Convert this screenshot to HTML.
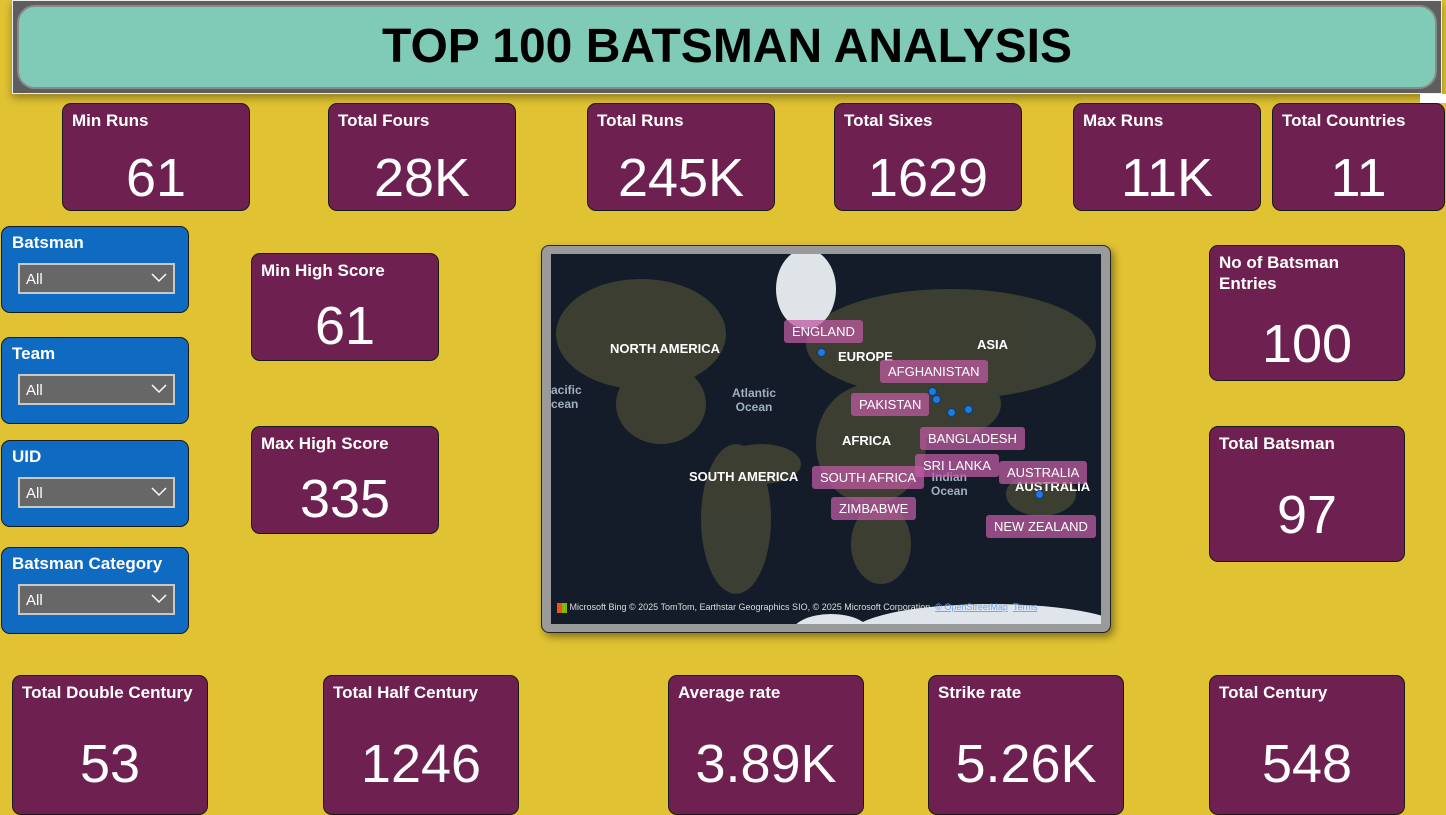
<!DOCTYPE html>
<html><head><meta charset="utf-8"><style>
*{box-sizing:border-box;margin:0;padding:0}
body{width:1446px;height:811px;background:#E0C232;position:relative;overflow:hidden;font-family:"Liberation Sans",sans-serif}
.card{position:absolute;background:#6E2150;border:1.5px solid #1a1a1a;border-radius:9px;color:#fff}
.card .t{position:absolute;left:9px;top:6px;font-size:17px;font-weight:bold;line-height:21px}
.card .v{position:absolute;left:0;right:0;text-align:center;font-size:54px;line-height:60px}
.sl{position:absolute;left:1px;width:188px;height:87px;background:#0F6BC2;border:1.5px solid #1a1a1a;border-radius:9px;color:#fff}
.sl .t{position:absolute;left:10px;top:6px;font-size:17px;font-weight:bold}
.sl .d{position:absolute;left:16px;top:36px;width:157px;height:31px;background:#676767;border:2px solid #c8c8c8;font-size:15px;padding:6px 0 0 6px}
.sl .d svg{position:absolute;right:6px;top:8px}
.lab{position:absolute;background:rgba(190,90,160,.75);color:#fff;font-size:13px;padding:4px 8px;border-radius:3px;white-space:nowrap}
.mt{position:absolute;color:#fff;font-weight:bold;font-size:13px;white-space:nowrap}
.dot{position:absolute;width:9px;height:9px;border-radius:50%;background:#1f7ae0;border:1px solid #0a3b80}
</style></head><body>
<div style="position:absolute;left:12px;top:0;width:1430px;height:94px;background:#5e5e5e;border:1px solid #eee;box-shadow:0 4px 8px rgba(0,0,0,.35)">
 <div style="position:absolute;left:4px;top:4px;right:4px;bottom:4px;background:#7FCBB7;border-radius:18px;border:2px solid #8a8a8a;text-align:center;font-size:48px;font-weight:bold;line-height:80px;color:#000">TOP 100 BATSMAN ANALYSIS</div>
</div>
<div style="position:absolute;left:1420px;top:94px;width:26px;height:9px;background:#fff"></div>

<div class="card" style="left:62px;top:103px;width:188px;height:108px"><div class="t">Min Runs</div><div class="v" style="top:44px">61</div></div>
<div class="card" style="left:328px;top:103px;width:188px;height:108px"><div class="t">Total Fours</div><div class="v" style="top:44px">28K</div></div>
<div class="card" style="left:587px;top:103px;width:188px;height:108px"><div class="t">Total Runs</div><div class="v" style="top:44px">245K</div></div>
<div class="card" style="left:834px;top:103px;width:188px;height:108px"><div class="t">Total Sixes</div><div class="v" style="top:44px">1629</div></div>
<div class="card" style="left:1073px;top:103px;width:188px;height:108px"><div class="t">Max Runs</div><div class="v" style="top:44px">11K</div></div>
<div class="card" style="left:1272px;top:103px;width:173px;height:108px"><div class="t">Total Countries</div><div class="v" style="top:44px">11</div></div>

<div class="card" style="left:251px;top:253px;width:188px;height:108px"><div class="t">Min High Score</div><div class="v" style="top:42px">61</div></div>
<div class="card" style="left:251px;top:426px;width:188px;height:108px"><div class="t">Max High Score</div><div class="v" style="top:42px">335</div></div>
<div class="card" style="left:1209px;top:245px;width:196px;height:136px"><div class="t">No of Batsman<br>Entries</div><div class="v" style="top:68px">100</div></div>
<div class="card" style="left:1209px;top:426px;width:196px;height:136px"><div class="t">Total Batsman</div><div class="v" style="top:58px">97</div></div>

<div class="card" style="left:12px;top:675px;width:196px;height:140px"><div class="t">Total Double Century</div><div class="v" style="top:58px">53</div></div>
<div class="card" style="left:323px;top:675px;width:196px;height:140px"><div class="t">Total Half Century</div><div class="v" style="top:58px">1246</div></div>
<div class="card" style="left:668px;top:675px;width:196px;height:140px"><div class="t">Average rate</div><div class="v" style="top:58px">3.89K</div></div>
<div class="card" style="left:928px;top:675px;width:196px;height:140px"><div class="t">Strike rate</div><div class="v" style="top:58px">5.26K</div></div>
<div class="card" style="left:1209px;top:675px;width:196px;height:140px"><div class="t">Total Century</div><div class="v" style="top:58px">548</div></div>

<div class="sl" style="top:226px"><div class="t">Batsman</div><div class="d">All<svg width="16" height="10"><path d="M1 1l7 7 7-7" stroke="#fff" fill="none" stroke-width="1.5"/></svg></div></div>
<div class="sl" style="top:337px"><div class="t">Team</div><div class="d">All<svg width="16" height="10"><path d="M1 1l7 7 7-7" stroke="#fff" fill="none" stroke-width="1.5"/></svg></div></div>
<div class="sl" style="top:440px"><div class="t">UID</div><div class="d">All<svg width="16" height="10"><path d="M1 1l7 7 7-7" stroke="#fff" fill="none" stroke-width="1.5"/></svg></div></div>
<div class="sl" style="top:547px"><div class="t">Batsman Category</div><div class="d">All<svg width="16" height="10"><path d="M1 1l7 7 7-7" stroke="#fff" fill="none" stroke-width="1.5"/></svg></div></div>

<div style="position:absolute;left:541px;top:245px;width:570px;height:388px;background:#9a9a9a;border:1.5px solid #222;border-radius:8px;box-shadow:3px 4px 8px rgba(0,0,0,.4)">
 <div style="position:absolute;left:9px;top:8px;width:550px;height:370px;background:#131c28;overflow:hidden">
  <svg width="550" height="370" style="position:absolute;left:0;top:0">
   <g fill="#4a4a36" opacity=".75">
    <ellipse cx="90" cy="80" rx="85" ry="55"/>
    <ellipse cx="110" cy="150" rx="45" ry="40"/>
    <ellipse cx="185" cy="265" rx="35" ry="75"/>
    <ellipse cx="210" cy="210" rx="40" ry="20"/>
    <ellipse cx="320" cy="190" rx="55" ry="60"/>
    <ellipse cx="330" cy="290" rx="30" ry="40"/>
    <ellipse cx="400" cy="90" rx="145" ry="55"/>
    <ellipse cx="390" cy="150" rx="60" ry="35"/>
    <ellipse cx="490" cy="240" rx="35" ry="22"/>
   </g>
   <ellipse cx="255" cy="35" rx="30" ry="40" fill="#dfe4e8"/>
   <ellipse cx="440" cy="380" rx="140" ry="30" fill="#dfe5ea"/>
   <ellipse cx="280" cy="380" rx="40" ry="20" fill="#dfe5ea"/>
  </svg>
  <div class="mt" style="left:59px;top:87px">NORTH AMERICA</div>
  <div class="mt" style="left:138px;top:215px">SOUTH AMERICA</div>
  <div class="mt" style="left:287px;top:95px">EUROPE</div>
  <div class="mt" style="left:291px;top:179px">AFRICA</div>
  <div class="mt" style="left:426px;top:83px">ASIA</div>
  <div class="mt" style="left:464px;top:225px">AUSTRALIA</div>
  <div class="mt" style="left:181px;top:132px;color:#9fb0c0;text-align:center;font-size:12px">Atlantic<br>Ocean</div>
  <div class="mt" style="left:380px;top:216px;color:#9fb0c0;text-align:center;font-size:12px">Indian<br>Ocean</div>
  <div class="mt" style="left:0;top:129px;color:#9fb0c0;font-size:12px">acific<br>cean</div>
  <div class="dot" style="left:266px;top:94px"></div>
  <div class="dot" style="left:377px;top:133px"></div>
  <div class="dot" style="left:381px;top:141px"></div>
  <div class="dot" style="left:396px;top:154px"></div>
  <div class="dot" style="left:413px;top:151px"></div>
  <div class="dot" style="left:484px;top:236px"></div>
  <div class="lab" style="left:233px;top:66px">ENGLAND</div>
  <div class="lab" style="left:329px;top:106px">AFGHANISTAN</div>
  <div class="lab" style="left:300px;top:139px">PAKISTAN</div>
  <div class="lab" style="left:369px;top:173px">BANGLADESH</div>
  <div class="lab" style="left:364px;top:200px">SRI LANKA</div>
  <div class="lab" style="left:261px;top:212px">SOUTH AFRICA</div>
  <div class="lab" style="left:448px;top:207px">AUSTRALIA</div>
  <div class="lab" style="left:280px;top:243px">ZIMBABWE</div>
  <div class="lab" style="left:435px;top:261px">NEW ZEALAND</div>
  <div style="position:absolute;left:6px;top:348px;font-size:9px;color:#ddd;white-space:nowrap"><span style="display:inline-block;width:10px;height:10px;background:linear-gradient(90deg,#f25022 50%,#7fba00 50%);vertical-align:middle"></span> Microsoft Bing © 2025 TomTom, Earthstar Geographics SIO, © 2025 Microsoft Corporation, <u style="color:#6aa8ff">© OpenStreetMap</u> &nbsp;<u style="color:#6aa8ff">Terms</u></div>
 </div>
</div>
</body></html>
